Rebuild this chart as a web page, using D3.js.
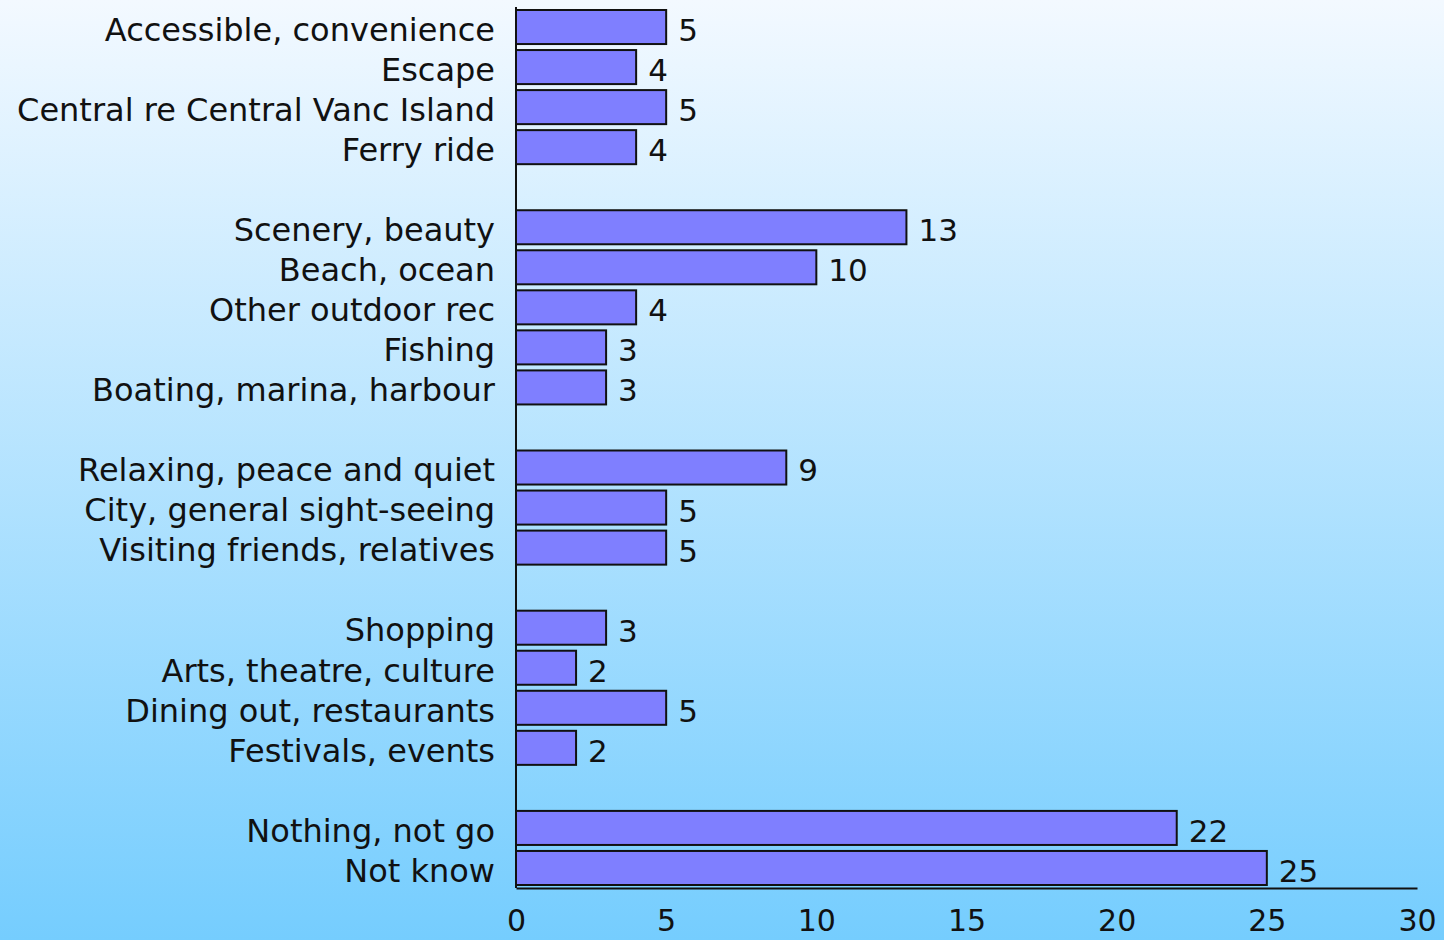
<!DOCTYPE html>
<html>
<head>
<meta charset="utf-8">
<script src="https://cdn.jsdelivr.net/npm/d3@7"></script>
<style>
  html, body { margin: 0; padding: 0; }
  body { width: 1444px; height: 940px; overflow: hidden; }
  svg text { font-family: "DejaVu Sans", "Liberation Sans", sans-serif; fill: #111; }
</style>
</head>
<body>
<div id="chart"></div>
<script>
// categories top to bottom, "" marks an empty gap row between groups
const categories = [
    "Accessible, convenience", "Escape", "Central re Central Vanc Island", "Ferry ride",
    "",
    "Scenery, beauty", "Beach, ocean", "Other outdoor rec", "Fishing", "Boating, marina, harbour",
    "",
    "Relaxing, peace and quiet", "City, general sight-seeing", "Visiting friends, relatives",
    "",
    "Shopping", "Arts, theatre, culture", "Dining out, restaurants", "Festivals, events",
    "",
    "Nothing, not go", "Not know"
];
const values = [5, 4, 5, 4, null, 13, 10, 4, 3, 3, null, 9, 5, 5, null, 3, 2, 5, 2, null, 22, 25];
const xTicks = [0, 5, 10, 15, 20, 25, 30];

const WIDTH = 1444, HEIGHT = 940;
let margin = {top: 7, right: 26, bottom: 52, left: 516},
    width = WIDTH - margin.left - margin.right,
    height = HEIGHT - margin.top - margin.bottom;

let rows = categories.map(function (c, i) { return {key: i, label: c, value: values[i]}; });

let svg = d3.select("#chart").append("svg")
    .attr("width", WIDTH)
    .attr("height", HEIGHT);

// background gradient
let grad = svg.append("defs").append("linearGradient")
    .attr("id", "bg").attr("x1", 0).attr("y1", 0).attr("x2", 0).attr("y2", 1);
grad.append("stop").attr("offset", "0%").attr("stop-color", "#f3f9ff");
grad.append("stop").attr("offset", "100%").attr("stop-color", "#75cdfe");
svg.append("rect")
    .attr("width", WIDTH).attr("height", HEIGHT)
    .attr("fill", "url(#bg)");

let g = svg.append("g")
    .attr("transform", "translate(" + margin.left + "," + margin.top + ")");

let x = d3.scaleLinear().domain([0, 30]).range([0, width - 1]);
let y = d3.scaleBand().domain(rows.map(function (d) { return d.key; }))
    .range([0, height]).paddingInner(0.15).paddingOuter(0.075);

let data = rows.filter(function (d) { return d.value !== null; });

// bars
g.selectAll(".bar")
    .data(data)
    .enter().append("rect")
    .attr("class", "bar")
    .attr("x", x(0))
    .attr("y", function (d) { return y(d.key); })
    .attr("width", function (d) { return x(d.value) - x(0); })
    .attr("height", y.bandwidth())
    .attr("fill", "#7f7fff")
    .attr("stroke", "#111")
    .attr("stroke-width", 2);

// value labels
g.selectAll(".val")
    .data(data)
    .enter().append("text")
    .attr("class", "val")
    .attr("x", function (d) { return x(d.value) + 12; })
    .attr("y", function (d) { return y(d.key) + y.bandwidth() / 2; })
    .attr("dy", "0.45em")
    .style("font-size", "31px")
    .text(function (d) { return d.value; });

// category labels
g.selectAll(".cat")
    .data(rows.filter(function (d) { return d.label !== ""; }))
    .enter().append("text")
    .attr("class", "cat")
    .attr("x", -21)
    .attr("y", function (d) { return y(d.key) + y.bandwidth() / 2; })
    .attr("dy", "0.43em")
    .attr("text-anchor", "end")
    .style("font-size", "32px")
    .text(function (d) { return d.label; });

// x axis, no tick marks
let xAxis = d3.axisBottom(x).tickValues(xTicks).tickSize(0).tickPadding(22);
let xAxisEL = g.append("g")
    .attr("transform", "translate(0," + height + ")")
    .call(xAxis);
xAxisEL.select(".domain").attr("stroke", "#111").attr("stroke-width", 2);
xAxisEL.selectAll("text")
    .style("font-size", "30px")
    .style("font-family", "\"DejaVu Sans\", sans-serif")
    .attr("fill", "#111");

// y axis line
g.append("line")
    .attr("x1", x(0)).attr("x2", x(0))
    .attr("y1", 0).attr("y2", height)
    .attr("stroke", "#111").attr("stroke-width", 2);
</script>
</body>
</html>
